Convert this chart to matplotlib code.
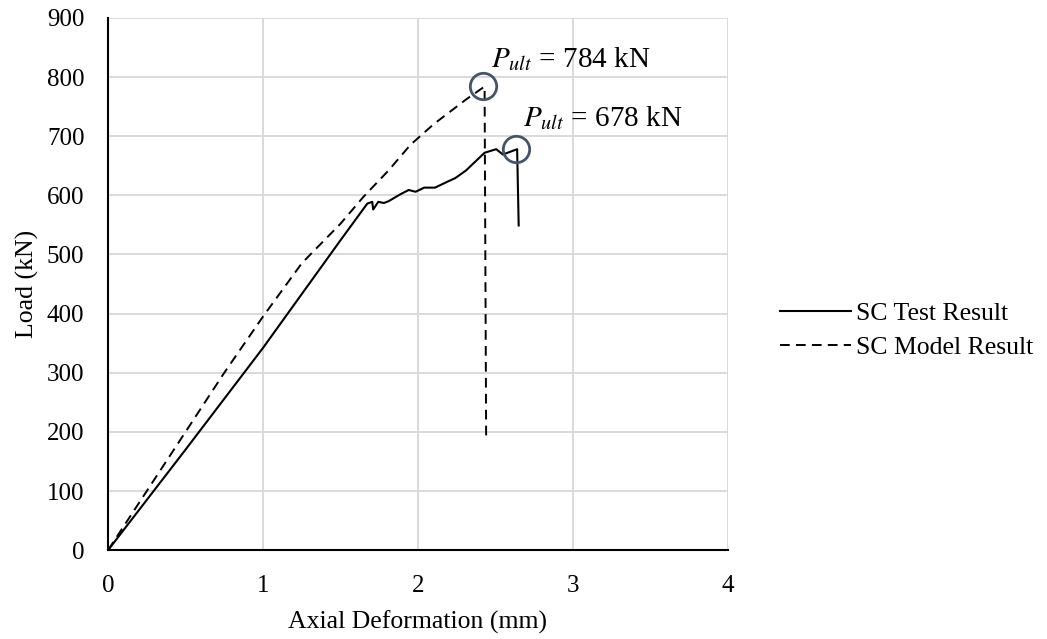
import matplotlib
matplotlib.use("Agg")
import matplotlib.pyplot as plt

plt.rcParams['font.family'] = ['Liberation Serif', 'DejaVu Serif']
plt.rcParams['mathtext.fontset'] = 'stix'

# SC column: measured load-deformation curve
test_x = [0, 0.5, 1.0, 1.5, 1.673, 1.705, 1.711, 1.744, 1.78, 1.81, 1.888, 1.94, 1.985,
          2.04, 2.11, 2.19, 2.24, 2.31, 2.43, 2.505, 2.548, 2.64, 2.65]
test_y = [0, 170, 342, 524, 586, 589, 576, 589, 587, 590, 602, 609, 606,
          613, 613, 623, 629, 642, 672, 678, 669, 678, 549]

# SC column: numerical model curve
model_x = [0, 0.25, 0.5, 0.75, 1.0, 1.25, 1.5, 1.65, 1.81, 1.95, 2.1, 2.25, 2.31, 2.43, 2.44]
model_y = [0, 100, 200, 300, 395, 485, 552, 598, 642, 685, 720, 750, 762, 784, 192]

peaks_x = [2.42, 2.63]
peaks_y = [784, 678]
peak_labels = [r'$P_{ult}$ = 784 kN', r'$P_{ult}$ = 678 kN']

fig = plt.figure(figsize=(10.47, 6.39), dpi=100)
ax = fig.add_axes([0.1032, 0.139, 0.592, 0.833])

ax.plot(test_x, test_y, color='black', linewidth=1.5, label='SC Test Result')
ax.plot(model_x, model_y, color='black', linewidth=1.4, linestyle=(0, (5, 3.2)),
        label='SC Model Result')

# circle the ultimate loads
ax.plot(peaks_x, peaks_y, linestyle='none', marker='o', markersize=19,
        markerfacecolor='none', markeredgecolor='#44546A', markeredgewidth=2)
ax.text(2.47, 831, peak_labels[0], fontsize=21, va='center', ha='left')
ax.text(2.68, 731, peak_labels[1], fontsize=21, va='center', ha='left')

ax.set_xlim(0, 4)
ax.set_ylim(0, 900)
ax.set_xticks([0, 1, 2, 3, 4])
ax.set_yticks(range(0, 1000, 100))
ax.grid(True, color='#D9D9D9', linewidth=1.4)
ax.set_axisbelow(True)
ax.tick_params(length=0, labelsize=18)
ax.tick_params(axis='x', pad=18)
ax.tick_params(axis='y', pad=17)

for side in ['top', 'right']:
    ax.spines[side].set_visible(False)
for side in ['left', 'bottom']:
    ax.spines[side].set_linewidth(1.5)

ax.set_xlabel('Axial Deformation (mm)', fontsize=18.5, labelpad=10)
ax.set_ylabel('Load (kN)', fontsize=18.5, labelpad=6)

fig.legend(loc='center left', bbox_to_anchor=(0.7226, 0.483), frameon=False,
           fontsize=18.5, handlelength=2.76, handletextpad=0.2, labelspacing=0.45)

fig.savefig('out.png', dpi=100)
